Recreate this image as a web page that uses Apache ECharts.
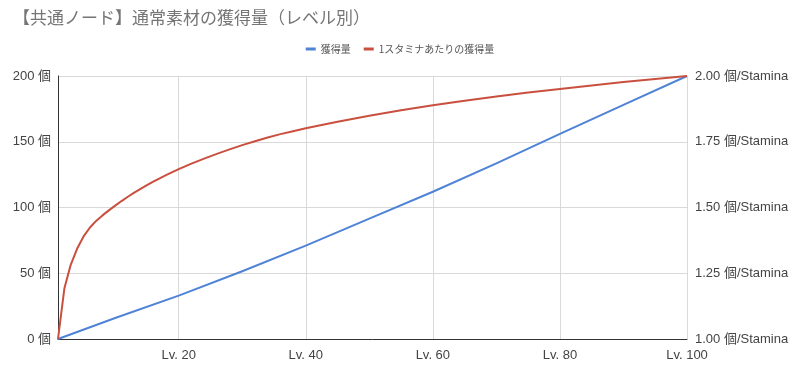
<!DOCTYPE html>
<html>
<head>
<meta charset="utf-8">
<script src="https://cdn.jsdelivr.net/npm/echarts@6/dist/echarts.min.js"></script>
<style>
html,body{margin:0;padding:0;background:#fff;}
#chart{width:800px;height:380px;}
</style>
</head>
<body>
<div id="chart"></div>
<script>
const titleText = '【共通ノード】通常素材の獲得量（レベル別）';
const seriesNames = ['獲得量', '1スタミナあたりの獲得量'];
const xTickLevels = [20, 40, 60, 80, 100];

const amountLevels = [1, 10, 20, 30, 40, 50, 60, 70, 80, 90, 100];
const amountValues = [0, 16, 33, 51.5, 71, 91.5, 112, 133.5, 156, 178, 200];

const perStaminaLevels = [1, 2, 3, 4, 5, 6, 7, 8, 9, 10, 11, 12, 13, 14, 15, 16, 17, 18, 19, 20,
  22, 24, 26, 28, 30, 32, 34, 36, 38, 40, 45, 50, 55, 60, 65, 70, 75, 80, 85, 90, 95, 100];
const perStaminaValues = [1.000, 1.192, 1.282, 1.343, 1.389, 1.423, 1.449, 1.470, 1.489, 1.507, 1.5245, 1.541, 1.5565, 1.571, 1.5848, 1.598, 1.6107, 1.6229, 1.6346, 1.6458,
  1.667, 1.686, 1.704, 1.721, 1.737, 1.752, 1.766, 1.779, 1.790, 1.801, 1.826, 1.849, 1.870, 1.889, 1.906, 1.922, 1.937, 1.951, 1.964, 1.977, 1.989, 2.000];

const FONT = '"Liberation Sans", Arial, "Noto Sans CJK JP", sans-serif';
const pairs = (xs, ys) => xs.map((x, i) => [x, ys[i]]);

const chart = echarts.init(document.getElementById('chart'), null, {renderer: 'canvas'});
chart.setOption({
  backgroundColor: '#fff',
  animation: false,
  title: {
    text: titleText,
    left: 8,
    top: 4,
    textStyle: {fontSize: 17, fontWeight: 'normal', color: '#757575', fontFamily: '"Noto Sans CJK JP", sans-serif'}
  },
  legend: {
    top: 39,
    left: 'center',
    icon: 'rect',
    itemWidth: 10,
    itemHeight: 3,
    itemGap: 13,
    textStyle: {fontSize: 10, color: '#555', fontFamily: '"Noto Sans CJK JP", sans-serif'},
    data: seriesNames
  },
  grid: {left: 58, right: 113, top: 76, bottom: 41, containLabel: false},
  xAxis: {
    type: 'value',
    min: 1,
    max: 100,
    axisLine: {show: true, lineStyle: {color: '#333', width: 1}},
    axisTick: {show: false, customValues: xTickLevels},
    axisLabel: {
      customValues: xTickLevels,
      formatter: v => 'Lv. ' + v,
      fontSize: 13, color: '#444', margin: 10, fontFamily: FONT
    },
    splitLine: {show: true, lineStyle: {color: '#d9d9d9', width: 1}}
  },
  yAxis: [
    {
      type: 'value',
      min: 0, max: 200, interval: 50,
      axisLine: {show: true, lineStyle: {color: '#333', width: 1}},
      axisTick: {show: false},
      axisLabel: {formatter: v => v + ' 個', fontSize: 13, color: '#444', margin: 7, fontFamily: FONT},
      splitLine: {show: true, lineStyle: {color: '#d9d9d9', width: 1}}
    },
    {
      type: 'value',
      min: 1, max: 2, interval: 0.25,
      axisLine: {show: false},
      axisTick: {show: false},
      axisLabel: {formatter: v => v.toFixed(2) + ' 個/Stamina', fontSize: 13, color: '#444', margin: 8, fontFamily: FONT},
      splitLine: {show: false}
    }
  ],
  series: [
    {
      name: seriesNames[0],
      type: 'line',
      yAxisIndex: 0,
      data: pairs(amountLevels, amountValues),
      smooth: false,
      showSymbol: false,
      symbol: 'none',
      lineStyle: {color: '#4f83d6', width: 2, join: 'round'},
      itemStyle: {color: '#4f83d6'}
    },
    {
      name: seriesNames[1],
      type: 'line',
      yAxisIndex: 1,
      data: pairs(perStaminaLevels, perStaminaValues),
      smooth: false,
      showSymbol: false,
      symbol: 'none',
      lineStyle: {color: '#c9503f', width: 2, join: 'round'},
      itemStyle: {color: '#c9503f'}
    }
  ]
});
</script>
</body>
</html>
